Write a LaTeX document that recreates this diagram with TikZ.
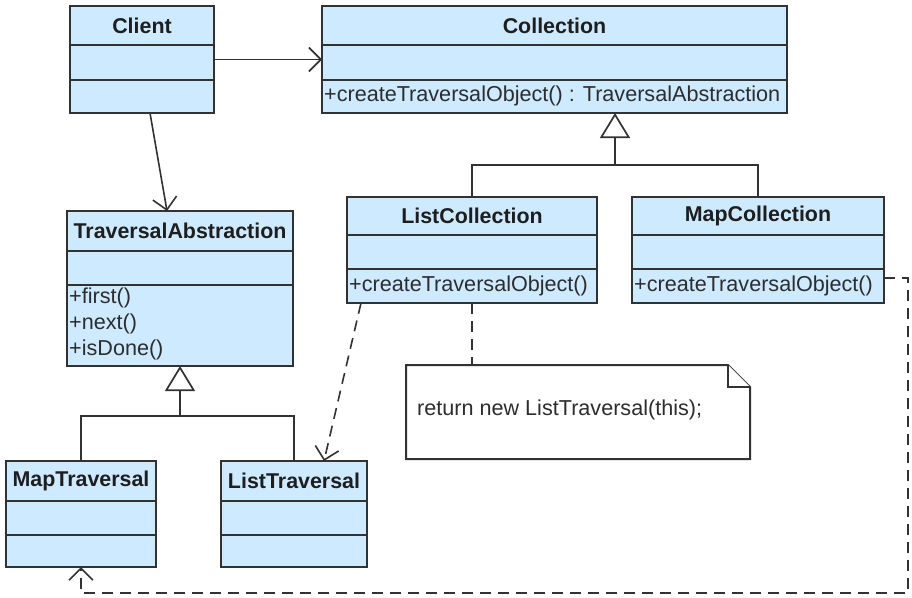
\documentclass[tikz,border=0pt]{standalone}
\usepackage{fontspec}
\setmainfont{Liberation Sans}
\usetikzlibrary{arrows.meta}
\definecolor{umlfill}{RGB}{206,234,255}
\definecolor{umlline}{RGB}{50,50,50}
\definecolor{umltext}{RGB}{30,30,30}
\definecolor{methtext}{RGB}{45,45,45}
\tikzset{
  classbox/.style={draw=umlline, fill=umlfill, line width=2pt, rectangle, inner sep=0pt, outer sep=0pt, anchor=north west},
  sepline/.style={draw=umlline, line width=1.8pt},
  titletext/.style={font=\bfseries\fontsize{21.4}{25}\selectfont, text=umltext, inner sep=0pt},
  methodtext/.style={font=\fontsize{21.6}{25}\selectfont, text=methtext, inner sep=0pt, anchor=west},
  assoc/.style={draw=umlline, line width=1.6pt, -{Straight Barb[length=12pt,width=24pt,line width=1.6pt]}},
  depend/.style={assoc, dash pattern=on 11pt off 7pt},
  genline/.style={draw=umlline, line width=1.7pt},
  genarrow/.style={genline, -{Triangle[open, length=25pt, width=30pt, line width=1.7pt]}},
  notebox/.style={draw=umlline, fill=white, line width=2pt}
}
\newcommand\umlclass[8]{%
  \node[classbox, minimum width=#4pt, minimum height=#5pt] (#1) at (#2,#3) {};
  \draw[sepline] ([yshift=-#6pt]#1.north west) -- ([yshift=-#6pt]#1.north east);
  \draw[sepline] ([yshift=-#7pt]#1.north west) -- ([yshift=-#7pt]#1.north east);
  \node[titletext] (#1-title) at ([yshift=-#6pt/2]#1.north) {#8};
}
\begin{document}
\begin{tikzpicture}[x=1pt, y=-1pt]
\useasboundingbox (0,0) rectangle (912,597);

% classes
\umlclass{client}{70}{6}{144}{107}{39}{74}{Client}
\umlclass{collection}{322}{6}{465}{107}{39}{74}{Collection}
\node[methodtext] (collection-m1) at (324,96) {+createTraversalObject() : TraversalAbstraction};

\umlclass{lc}{347}{197}{250}{106}{38}{72}{ListCollection}
\node[methodtext] (lc-m1) at (349,286) {+createTraversalObject()};

\umlclass{mc}{632}{197}{252}{106}{38}{72}{MapCollection}
\node[methodtext] (mc-m1) at (634,286) {+createTraversalObject()};

\umlclass{ta}{67}{211}{226}{155}{40}{74}{TraversalAbstraction}
\node[methodtext] (ta-m1) at (69,298) {+first()};
\node[methodtext] (ta-m2) at (69,324) {+next()};
\node[methodtext] (ta-m3) at (69,350) {+isDone()};

\umlclass{mt}{6}{461}{150}{106}{40}{74}{MapTraversal}
\umlclass{lt}{221}{461}{146}{106}{40}{74}{ListTraversal}

% note
\node[rectangle, inner sep=0pt, outer sep=0pt, minimum width=344pt, minimum height=94pt, anchor=north west] (note) at (406,365) {};
\draw[notebox] (note.north west) -- ([xshift=-22pt]note.north east) -- ([yshift=-22pt]note.north east) -- (note.south east) -- (note.south west) -- cycle;
\draw[notebox] ([xshift=-22pt]note.north east) -- ([xshift=-22pt,yshift=-22pt]note.north east) -- ([yshift=-22pt]note.north east);
\node[methodtext] (note-text) at (417,410) {return new ListTraversal(this);};

% associations
\draw[assoc] (client.east) -- (collection.west);
\draw[assoc] ([xshift=8pt]client.south) -- ([xshift=-13pt]ta.north);

% generalization: collections
\coordinate (cj) at (615,165);
\draw[genline] (lc.north) |- (cj);
\draw[genline] (mc.north) |- (cj);
\draw[genarrow] (cj) -- (cj |- collection.south);

% generalization: traversals
\coordinate (tj) at (180,416);
\draw[genline] (mt.north) |- (tj);
\draw[genline] (lt.north) |- (tj);
\draw[genarrow] (tj) -- (ta.south);

% dependencies
\draw[depend] ([xshift=14pt]lc.south west) -- ([xshift=103pt]lt.north west);
\draw[draw=umlline, line width=1.6pt, dash pattern=on 11pt off 7pt] (lc.south) -- (lc.south |- note.north);
\coordinate (r1) at (908,278);
\coordinate (r2) at (908,593);
\draw[depend] (mc.east |- r1) -- (r1) -- (r2) -- (mt.south |- r2) -- (mt.south);
\end{tikzpicture}
\end{document}
